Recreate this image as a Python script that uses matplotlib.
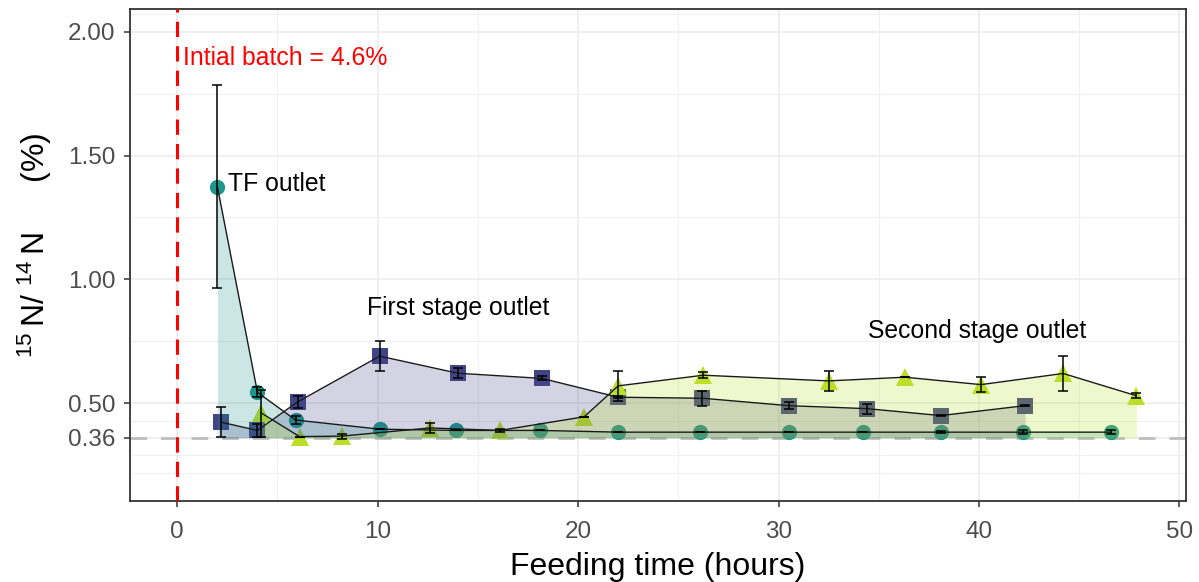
import matplotlib
matplotlib.use("Agg")
import matplotlib.pyplot as plt
import numpy as np

plt.rcParams['font.family'] = ['Liberation Sans', 'DejaVu Sans']
plt.rcParams['mathtext.fontset'] = 'custom'
plt.rcParams['mathtext.rm'] = 'Liberation Sans'
plt.rcParams['mathtext.default'] = 'regular'

# TF outlet
tf_x = [2.0, 4.0, 5.9, 10.1, 13.9, 18.1, 22.0, 26.1, 30.5, 34.2, 38.1, 42.2, 46.6]
tf_y = [1.375, 0.544, 0.432, 0.395, 0.39, 0.39, 0.383, 0.383, 0.383, 0.383, 0.383, 0.383, 0.383]
tf_err = [0.41, 0.02, 0.015, 0.0, 0.0, 0.0, 0.0, 0.0, 0.0, 0.0, 0.003, 0.008, 0.008]

# First stage outlet
fs_x = [2.2, 4.0, 6.0, 10.1, 14.0, 18.2, 22.0, 26.2, 30.5, 34.4, 38.1, 42.3]
fs_y = [0.423, 0.39, 0.505, 0.69, 0.621, 0.60, 0.524, 0.52, 0.49, 0.478, 0.45, 0.49]
fs_err = [0.06, 0.025, 0.025, 0.06, 0.02, 0.008, 0.005, 0.03, 0.015, 0.02, 0.002, 0.002]

# Second stage outlet
ss_x = [4.2, 6.1, 8.2, 12.6, 16.1, 20.3, 22.0, 26.25, 32.5, 36.3, 40.1, 44.2, 47.85]
ss_y = [0.46, 0.365, 0.367, 0.40, 0.39, 0.445, 0.57, 0.613, 0.59, 0.605, 0.575, 0.62, 0.53]
ss_err = [0.095, 0.0, 0.01, 0.02, 0.005, 0.0, 0.06, 0.012, 0.04, 0.0, 0.03, 0.07, 0.01]

baseline = 0.36
y_breaks = [0.36, 0.50, 1.00, 1.50, 2.00]
y_minor = [0.22, 0.29, 0.43, 0.75, 1.25, 1.75, 2.07]
x_breaks = [0, 10, 20, 30, 40, 50]
x_minor = [5, 15, 25, 35, 45]

c_tf = '#1F968B'
c_fs = '#414487'
c_ss = '#BBDF27'

fig = plt.figure(figsize=(11.99, 5.82), dpi=100)
ax = fig.add_axes([0.1084, 0.1392, 0.8808, 0.8453])

series = [
    (tf_x, tf_y, tf_err, c_tf, 'o', 11),
    (fs_x, fs_y, fs_err, c_fs, 's', 11.5),
    (ss_x, ss_y, ss_err, c_ss, '^', 13),
]

# punti sotto, poi aree semitrasparenti, linee e barre d'errore sopra
for x, y, e, c, m, ms in series:
    ax.plot(x, y, linestyle='none', marker=m, markersize=ms, color=c,
            markeredgewidth=0, zorder=3)
for x, y, e, c, m, ms in series:
    ax.fill_between(x, baseline, y, color=c, alpha=0.23, linewidth=0, zorder=4)
for x, y, e, c, m, ms in series:
    ax.plot(x, y, color='#1a1a1a', linewidth=1.0, zorder=5)
    ax.errorbar(x, y, yerr=e, fmt='none', ecolor='black', elinewidth=1.1,
                capsize=3.6, capthick=1.1, zorder=6)

ax.axvline(0, color='red', linewidth=2.2, dashes=(5, 3), zorder=7)
ax.axhline(baseline, color='#BEBEBE', linewidth=2.0, dashes=(6, 5), zorder=2)

ax.text(0.3, 1.894, 'Intial batch = 4.6%', color='red', fontsize=17.8,
        ha='left', va='center')
ax.text(2.55, 1.385, 'TF outlet', color='black', fontsize=17.8,
        ha='left', va='center')
ax.text(14.0, 0.885, 'First stage outlet', color='black', fontsize=17.8,
        ha='center', va='center')
ax.text(39.9, 0.79, 'Second stage outlet', color='black', fontsize=17.8,
        ha='center', va='center')

ax.set_xlim(-2.36, 50.33)
ax.set_ylim(0.105, 2.092)
ax.set_xticks(x_breaks)
ax.set_xticks(x_minor, minor=True)
ax.set_yticks(y_breaks)
ax.set_yticklabels(['%.2f' % v for v in y_breaks])
ax.set_yticks(y_minor, minor=True)

ax.grid(which='major', color='#EBEBEB', linewidth=1.1, zorder=0)
ax.grid(which='minor', color='#F0F0F0', linewidth=0.8, zorder=0)
ax.set_axisbelow(True)

ax.tick_params(which='major', length=4.5, width=1.1, color='#333333',
               labelcolor='#4D4D4D', labelsize=17.5, pad=6)
ax.tick_params(axis='x', which='major', pad=10)
ax.tick_params(which='minor', length=0)
for s in ax.spines.values():
    s.set_color('#333333')
    s.set_linewidth(1.3)

ax.set_xlabel('Feeding time (hours)', fontsize=23, color='black')
ax.xaxis.set_label_coords(0.5, -0.103)
ax.xaxis.label.set_va('top')
ax.set_ylabel(r'$^{15}\,$N/ $^{14}\,$N$\quad$  (%)', fontsize=23, color='black')
ax.yaxis.set_label_coords(-0.072, 0.52)

fig.savefig('out.png', dpi=100)
plt.close(fig)
